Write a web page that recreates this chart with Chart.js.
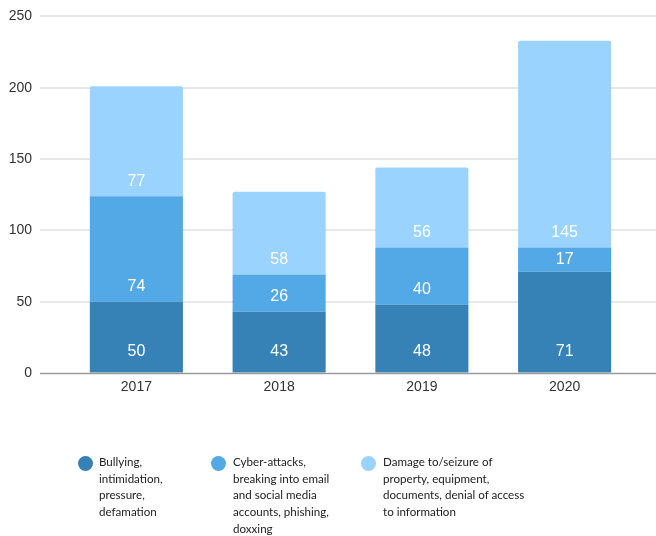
<!DOCTYPE html>
<html>
<head>
<meta charset="utf-8">
<script src="https://cdn.jsdelivr.net/npm/chart.js@4"></script>
<style>
  html, body { margin: 0; padding: 0; background: #fff; }
  #wrap { position: relative; width: 656px; height: 536px; }
  canvas { display: block; }
  #legend { position: absolute; left: 0; top: 454px; width: 656px; font-family: Lato, "Noto Sans", sans-serif; font-size: 11.6px; color: #222; }
  .item { position: absolute; top: 0; }
  .dot { position: absolute; width: 15px; height: 15px; border-radius: 50%; top: 2px; }
  .txt { position: absolute; top: 0; line-height: 16.7px; white-space: nowrap; }
</style>
</head>
<body>
<div id="wrap">
  <canvas id="c" width="656" height="536"></canvas>
  <div id="legend"></div>
</div>
<script>
const categories = ["2017", "2018", "2019", "2020"];
const bullying = [50, 43, 48, 71];
const cyberAttacks = [74, 26, 40, 17];
const damage = [77, 58, 56, 145];
const seriesNames = [
  ["Bullying,", "intimidation,", "pressure,", "defamation"],
  ["Cyber-attacks,", "breaking into email", "and social media", "accounts, phishing,", "doxxing"],
  ["Damage to/seizure of", "property, equipment,", "documents, denial of access", "to information"]
];
const yTicks = [0, 50, 100, 150, 200, 250];
const colors = ["#3681B6", "#52A9E6", "#9AD4FE"];

const gridPlugin = {
  id: 'fullGrid',
  beforeDatasetsDraw(chart) {
    const ctx = chart.ctx, y = chart.scales.y;
    ctx.save();
    y.ticks.forEach(t => {
      const py = Math.round(y.getPixelForValue(t.value));
      if (t.value === 0) return;
      ctx.strokeStyle = '#e8e8e8';
      ctx.lineWidth = 2;
      ctx.beginPath(); ctx.moveTo(40, py); ctx.lineTo(656, py); ctx.stroke();
    });
    ctx.restore();
  },
  afterDatasetsDraw(chart) {
    const ctx = chart.ctx, y = chart.scales.y;
    const py = y.getPixelForValue(0) + 0.5;
    ctx.save();
    ctx.strokeStyle = '#9a9a9a';
    ctx.lineWidth = 1.5;
    ctx.beginPath(); ctx.moveTo(40, py); ctx.lineTo(656, py); ctx.stroke();
    ctx.fillStyle = '#ffffff';
    ctx.font = '16px "Liberation Sans", Arial, sans-serif';
    ctx.textAlign = 'center';
    ctx.textBaseline = 'middle';
    chart.data.datasets.forEach((ds, di) => {
      const meta = chart.getDatasetMeta(di);
      meta.data.forEach((bar, i) => {
        const base = bar.base, top = bar.y;
        const center = (base + top) / 2;
        const off = di === 0 ? 21 : 15;
        const ly = Math.max(base - off, center);
        ctx.fillText(String(ds.data[i]), bar.x, ly);
      });
    });
    ctx.restore();
  }
};

new Chart(document.getElementById('c'), {
  type: 'bar',
  data: {
    labels: categories,
    datasets: [
      { label: seriesNames[0].join(' '), data: bullying, backgroundColor: colors[0] },
      { label: seriesNames[1].join(' '), data: cyberAttacks, backgroundColor: colors[1] },
      { label: seriesNames[2].join(' '), data: damage, backgroundColor: colors[2], borderRadius: {topLeft: 2, topRight: 2, bottomLeft: 0, bottomRight: 0}, borderSkipped: 'bottom' }
    ]
  },
  options: {
    responsive: false,
    animation: false,
    layout: { padding: { top: 16, right: 20, left: 0, bottom: 133 } },
    datasets: { bar: { categoryPercentage: 1, barPercentage: 0.652 } },
    plugins: { legend: { display: false }, tooltip: { enabled: false } },
    scales: {
      x: {
        stacked: true,
        grid: { display: false, drawTicks: false },
        border: { display: false },
        ticks: { color: '#333', padding: 6, font: { family: '"Liberation Sans", Arial, sans-serif', size: 14 } },
        afterFit(s) { s.height = 30; }
      },
      y: {
        stacked: true,
        min: 0, max: 250,
        afterBuildTicks(s) { s.ticks = yTicks.map(v => ({ value: v })); },
        grid: { display: true, drawOnChartArea: false, drawTicks: true, tickLength: 25, tickColor: 'rgba(0,0,0,0)' },
        border: { display: false },
        ticks: { color: '#333', padding: 8, font: { family: '"Liberation Sans", Arial, sans-serif', size: 14 } },
        afterFit(s) { s.width = 65; }
      }
    }
  },
  plugins: [gridPlugin]
});

const legendPos = [{ dot: 78, txt: 99 }, { dot: 211, txt: 233 }, { dot: 361, txt: 383 }];
const lg = document.getElementById('legend');
seriesNames.forEach((lines, i) => {
  const item = document.createElement('div');
  item.className = 'item';
  const d = document.createElement('div');
  d.className = 'dot';
  d.style.left = legendPos[i].dot + 'px';
  d.style.background = colors[i];
  const t = document.createElement('div');
  t.className = 'txt';
  t.style.left = legendPos[i].txt + 'px';
  t.innerHTML = lines.join('<br>');
  item.appendChild(d); item.appendChild(t);
  lg.appendChild(item);
});
</script>
</body>
</html>
